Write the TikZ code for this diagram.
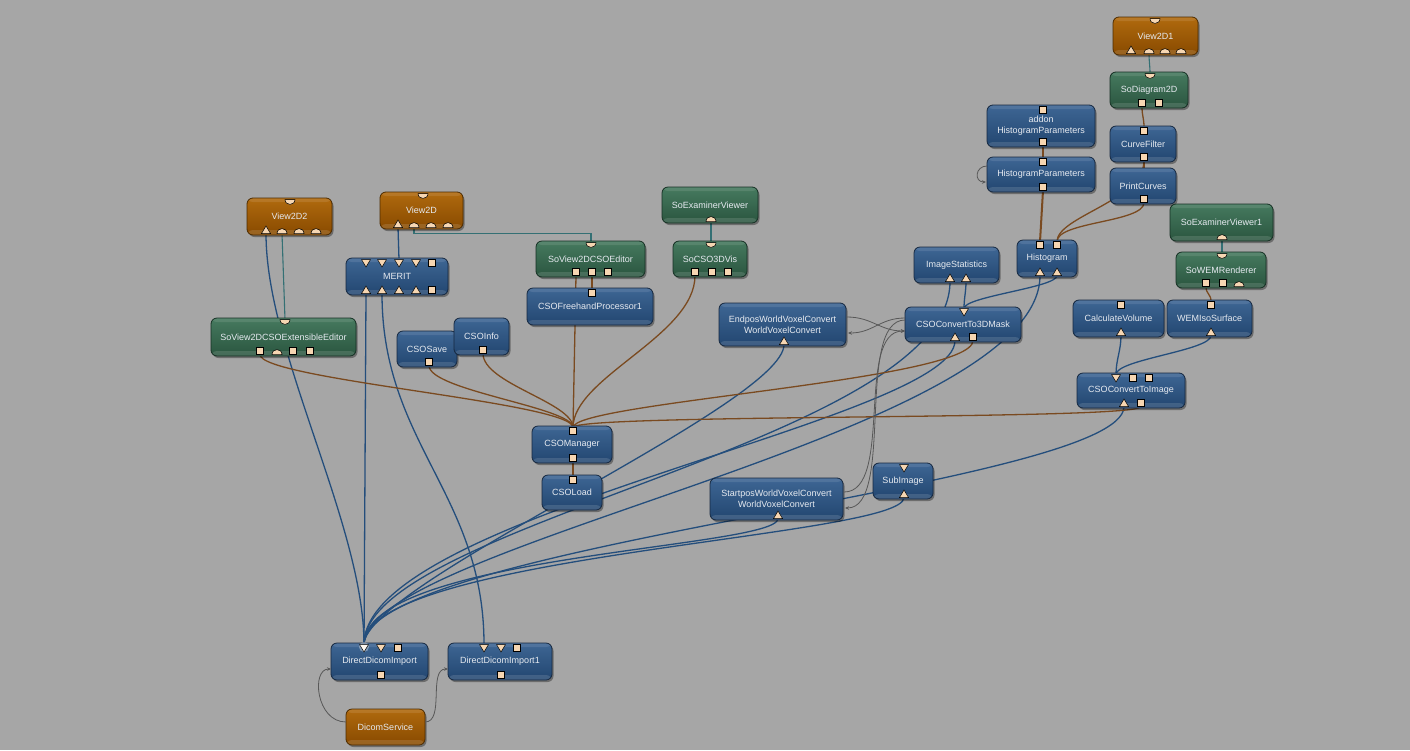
\documentclass[tikz,border=0pt]{standalone}
\usepackage{fontspec}
\newfontfamily\modfontfam{Liberation Sans}
\usetikzlibrary{shadows,arrows.meta,calc}
\definecolor{bgc}{RGB}{166,166,166}
\definecolor{blueT}{RGB}{62,102,148}
\definecolor{blueB}{RGB}{34,70,112}
\definecolor{blueD}{RGB}{22,40,64}
\definecolor{orT}{RGB}{176,106,14}
\definecolor{orB}{RGB}{136,74,0}
\definecolor{orD}{RGB}{78,44,0}
\definecolor{grT}{RGB}{70,122,95}
\definecolor{grB}{RGB}{42,85,63}
\definecolor{grD}{RGB}{22,48,36}
\definecolor{modtxt}{RGB}{230,234,240}
\definecolor{portc}{RGB}{246,214,178}
\definecolor{lblue}{RGB}{36,78,124}
\definecolor{lbrown}{RGB}{122,74,32}
\definecolor{lteal}{RGB}{52,112,116}
\definecolor{lgray}{RGB}{88,88,88}
\tikzset{
  modbase/.style={rounded corners=6pt, line width=0.8pt, inner sep=0pt, align=center,
    text=modtxt, font=\modfontfam\fontsize{9}{11}\selectfont,
    drop shadow={shadow xshift=1.5pt, shadow yshift=-2pt, opacity=0.35, fill=black},
    path picture={
      \fill[white, opacity=0.13] (path picture bounding box.south west) rectangle ([yshift=5pt]path picture bounding box.south east);
      \fill[white, opacity=0.10] (path picture bounding box.north west) rectangle ([yshift=-4pt]path picture bounding box.north east);
    }},
  bluemod/.style={modbase, draw=blueD, top color=blueT, bottom color=blueB},
  ormod/.style={modbase, draw=orD, top color=orT, bottom color=orB},
  grmod/.style={modbase, draw=grD, top color=grT, bottom color=grB},
  portst/.style={fill=portc, draw=black, line width=0.5pt},
  pics/ptu/.style={code={\path[portst] (-4.5,0) -- (4.5,0) -- (0,-7.5) -- cycle;}},
  pics/ptd/.style={code={\path[portst] (-4.5,0) -- (4.5,0) -- (0,7.5) -- cycle;}},
  pics/ptdh/.style={code={\path[portst, fill={rgb,255:red,255;green,248;blue,240}] (-4.5,0) -- (4.5,0) -- (0,7.5) -- cycle;}},
  pics/pdu/.style={code={\path[portst] (-5,0) .. controls (-5,-6.5) and (5,-6.5) .. (5,0) -- cycle;}},
  pics/pdd/.style={code={\path[portst] (-5,0) .. controls (-5,6.5) and (5,6.5) .. (5,0) -- cycle;}},
  pics/psb/.style={code={\path[portst] (-3.5,0) rectangle (3.5,-7);}},
  pics/pst/.style={code={\path[portst] (-3.5,0) rectangle (3.5,7);}},
  bluec/.style={draw=lblue, line width=1.3pt},
  brownc/.style={draw=lbrown, line width=1.3pt},
  tealc/.style={draw=lteal, line width=1.1pt},
  grayarr/.style={draw=lgray, line width=0.8pt, -{Stealth[length=4pt,width=3.5pt]}},
}
\begin{document}
\begin{tikzpicture}[x=1pt,y=-1pt]
\useasboundingbox (0,0) rectangle (1410,750);
\fill[bgc] (0,0) rectangle (1410,750);

% ---------- port coordinates ----------
\coordinate (v2d1t) at (1155,18.5);
\coordinate (v2d1b0) at (1131,53.5);
\coordinate (v2d1b1) at (1149,53.5);
\coordinate (v2d1b2) at (1165,53.5);
\coordinate (v2d1b3) at (1181,53.5);
\coordinate (sd2t) at (1150,73.5);
\coordinate (sd2b0) at (1142,106.5);
\coordinate (sd2b1) at (1159,106.5);
\coordinate (ahpt) at (1043,106.5);
\coordinate (ahpb) at (1043,145.5);
\coordinate (hpt) at (1043,158.5);
\coordinate (hpb) at (1043,190.5);
\coordinate (cft) at (1144,127.5);
\coordinate (cfb) at (1144,160.5);
\coordinate (pct) at (1144,169.5);
\coordinate (pcb) at (1144,202.5);
\coordinate (hist0) at (1040,241.5);
\coordinate (hist1) at (1057,241.5);
\coordinate (hisb0) at (1040,275.5);
\coordinate (hisb1) at (1057,275.5);
\coordinate (sev1b) at (1222,239.5);
\coordinate (swrt) at (1222,253.5);
\coordinate (swrb0) at (1206,286.5);
\coordinate (swrb1) at (1223,286.5);
\coordinate (swrb2) at (1239,286.5);
\coordinate (cvt) at (1121,301.5);
\coordinate (cvb) at (1121,335.5);
\coordinate (wist) at (1211,301.5);
\coordinate (wisb) at (1211,335.5);
\coordinate (ctit0) at (1116,374.5);
\coordinate (ctit1) at (1133,374.5);
\coordinate (ctit2) at (1149,374.5);
\coordinate (ctib0) at (1124,406.5);
\coordinate (ctib1) at (1141,406.5);
\coordinate (isb0) at (950,281.5);
\coordinate (isb1) at (966,281.5);
\coordinate (c3mt) at (964,308.5);
\coordinate (c3mb0) at (955,340.5);
\coordinate (c3mb1) at (973,340.5);
\coordinate (ewb) at (784,344.5);
\coordinate (sevb) at (711,221.5);
\coordinate (s3dt) at (711,242.5);
\coordinate (s3db0) at (695,275.5);
\coordinate (s3db1) at (712,275.5);
\coordinate (s3db2) at (728,275.5);
\coordinate (svet) at (591,242.5);
\coordinate (sveb0) at (576,275.5);
\coordinate (sveb1) at (592,275.5);
\coordinate (sveb2) at (608,275.5);
\coordinate (cfpt) at (592,289.5);
\coordinate (v2dt) at (423,193.5);
\coordinate (v2db0) at (398,227.5);
\coordinate (v2db1) at (414,227.5);
\coordinate (v2db2) at (431,227.5);
\coordinate (v2db3) at (448,227.5);
\coordinate (v22t) at (290,199.5);
\coordinate (v22b0) at (266,233.5);
\coordinate (v22b1) at (282,233.5);
\coordinate (v22b2) at (299,233.5);
\coordinate (v22b3) at (316,233.5);
\coordinate (mt0) at (366,259.5);
\coordinate (mt1) at (382,259.5);
\coordinate (mt2) at (399,259.5);
\coordinate (mt3) at (416,259.5);
\coordinate (mt4) at (432,259.5);
\coordinate (mb0) at (366,293.5);
\coordinate (mb1) at (382,293.5);
\coordinate (mb2) at (399,293.5);
\coordinate (mb3) at (416,293.5);
\coordinate (mb4) at (432,293.5);
\coordinate (sxet) at (285,319.5);
\coordinate (sxeb0) at (260,354.5);
\coordinate (sxeb1) at (277,354.5);
\coordinate (sxeb2) at (293,354.5);
\coordinate (sxeb3) at (310,354.5);
\coordinate (csb) at (429,365.5);
\coordinate (cib) at (483,353.5);
\coordinate (cmt) at (573,427.5);
\coordinate (cmb) at (573,461.5);
\coordinate (clt) at (573,476.5);
\coordinate (swb) at (778,518.5);
\coordinate (sit) at (904,464.5);
\coordinate (sib) at (904,497.5);
\coordinate (ddt0) at (364,644.5);
\coordinate (ddt1) at (381,644.5);
\coordinate (ddt2) at (398,644.5);
\coordinate (ddb) at (381,678.5);
\coordinate (dd1t0) at (484,644.5);
\coordinate (dd1t1) at (501,644.5);
\coordinate (dd1t2) at (517,644.5);
\coordinate (dd1b) at (501,678.5);
% side points for parameter connections
\coordinate (ewR1) at (847,317);
\coordinate (ewR2) at (848,333);
\coordinate (c3L1) at (905,318);
\coordinate (c3L2) at (905,331);
\coordinate (c3L3) at (905,320);
\coordinate (swR1) at (844,492);
\coordinate (swR2) at (845,508);
\coordinate (hpL1) at (987,166);
\coordinate (hpL2) at (986,182);
\coordinate (dsL) at (346,722);
\coordinate (dsR) at (425,722);
\coordinate (ddiL) at (331,669);
\coordinate (dd1L) at (448,669);

% ---------- connections (behind modules) ----------
% inventor connections
\draw[tealc] (v2d1b1) .. controls +(0,8) and +(0,-8) .. (sd2t);
\draw[tealc] (v22b1) -- (sxet);
\draw[tealc] (v2db1) -- ++(0,6) -| (svet);
\draw[tealc] (sevb) -- (s3dt);
\draw[tealc] (sev1b) -- (swrt);
% image connections
\draw[bluec] (v2db0) -- (mt2);
\draw[bluec] (v22b0) .. controls +(0,120) and +(0,-120) .. (ddt0);
\draw[bluec] (mb0) -- (ddt0);
\draw[bluec] (mb1) .. controls +(0,150) and +(0,-150) .. (dd1t0);
\draw[bluec] (ewb) .. controls +(0,60) and +(0,-60) .. (ddt0);
\draw[bluec] (isb0) .. controls +(0,160) and +(0,-120) .. (ddt0);
\draw[bluec] (c3mb0) .. controls +(0,80) and +(0,-130) .. (ddt0);
\draw[bluec] (hisb0) .. controls +(0,160) and +(0,-100) .. (ddt0);
\draw[bluec] (swb) .. controls +(0,30) and +(0,-90) .. (ddt0);
\draw[bluec] (sib) .. controls +(0,40) and +(0,-90) .. (ddt0);
\draw[bluec] (ctib0) .. controls +(0,80) and +(0,-100) .. (ddt0);
\draw[bluec] (c3mt) .. controls +(0,-10) and +(0,10) .. (isb1);
\draw[bluec] (c3mt) .. controls +(0,-12) and +(0,12) .. (hisb1);
\draw[bluec] (cvb) .. controls +(0,15) and +(0,-15) .. (ctit0);
\draw[bluec] (wisb) .. controls +(0,15) and +(0,-15) .. (ctit0);
% base connections
\draw[brownc] (sd2b0) .. controls +(0,10) and +(0,-10) .. (cft);
\draw[brownc] (cfb) -- (pct);
\draw[brownc] (ahpb) -- (hpt);
\draw[brownc, line width=2pt] (hpb) -- (hist0);
\draw[brownc] (hist1) .. controls +(0,-20) and +(0,20) .. (pcb);
\draw[brownc] (hist1) .. controls +(0,-25) and +(0,40) .. (cfb);
\draw[brownc] (swrb0) .. controls +(0,8) and +(0,-8) .. (wist);
\draw[brownc] (sveb1) -- (cfpt);
\draw[brownc] (sveb0) -- (cmt);
\draw[brownc] (s3db0) .. controls +(0,60) and +(0,-50) .. (cmt);
\draw[brownc] (csb) .. controls +(0,25) and +(0,-20) .. (cmt);
\draw[brownc] (cib) .. controls +(0,30) and +(0,-25) .. (cmt);
\draw[brownc] (sxeb0) .. controls +(0,25) and +(0,-25) .. (cmt);
\draw[brownc] (c3mb1) .. controls +(0,40) and +(0,-25) .. (cmt);
\draw[brownc] (ctib1) .. controls +(0,14) and +(0,-14) .. (cmt);
\draw[brownc] (cmb) -- (clt);

% ---------- modules ----------
\node[ormod, minimum width=85pt, minimum height=38pt] (view2d1) at (1155.5,36) {View2D1};
\node[grmod, minimum width=78pt, minimum height=36pt] (sodiag) at (1149,90) {SoDiagram2D};
\node[bluemod, minimum width=108pt, minimum height=42pt] (addonhp) at (1041,126) {addon\\HistogramParameters};
\node[bluemod, minimum width=108pt, minimum height=35pt] (histpar) at (1041,174.5) {HistogramParameters};
\node[bluemod, minimum width=66pt, minimum height=36pt] (curvef) at (1143,144) {CurveFilter};
\node[bluemod, minimum width=66pt, minimum height=36pt] (printc) at (1143,186) {PrintCurves};
\node[bluemod, minimum width=60pt, minimum height=37pt] (histo) at (1047,258.5) {Histogram};
\node[grmod, minimum width=103pt, minimum height=37pt] (soexv1) at (1221.5,222.5) {SoExaminerViewer1};
\node[grmod, minimum width=90pt, minimum height=36pt] (sowem) at (1221,270) {SoWEMRenderer};
\node[bluemod, minimum width=91pt, minimum height=37pt] (calcvol) at (1118.5,318.5) {CalculateVolume};
\node[bluemod, minimum width=85pt, minimum height=37pt] (wemiso) at (1209.5,318.5) {WEMIsoSurface};
\node[bluemod, minimum width=108pt, minimum height=35pt] (ctoimg) at (1131,390.5) {CSOConvertToImage};
\node[bluemod, minimum width=85pt, minimum height=36pt] (imgstat) at (956.5,265) {ImageStatistics};
\node[bluemod, minimum width=116pt, minimum height=35pt] (cto3d) at (963,324.5) {CSOConvertTo3DMask};
\node[bluemod, minimum width=127pt, minimum height=43pt] (endpos) at (782.5,324.5) {EndposWorldVoxelConvert\\WorldVoxelConvert};
\node[grmod, minimum width=96pt, minimum height=36pt] (soexv) at (710,205) {SoExaminerViewer};
\node[grmod, minimum width=74pt, minimum height=36pt] (socso3d) at (710,259) {SoCSO3DVis};
\node[grmod, minimum width=109pt, minimum height=36pt] (sov2dcso) at (590.5,259) {SoView2DCSOEditor};
\node[bluemod, minimum width=126pt, minimum height=37pt] (freehand) at (590,306.5) {CSOFreehandProcessor1};
\node[ormod, minimum width=83pt, minimum height=37pt] (view2d) at (421.5,210.5) {View2D};
\node[ormod, minimum width=85pt, minimum height=37pt] (view2d2) at (289.5,216.5) {View2D2};
\node[bluemod, minimum width=102pt, minimum height=37pt] (merit) at (397,276.5) {MERIT};
\node[grmod, minimum width=145pt, minimum height=38pt] (sov2dext) at (283.5,337) {SoView2DCSOExtensibleEditor};
\node[bluemod, minimum width=60pt, minimum height=36pt] (csosave) at (427,349) {CSOSave};
\node[bluemod, minimum width=55pt, minimum height=37pt] (csoinfo) at (481.5,336.5) {CSOInfo};
\node[bluemod, minimum width=80pt, minimum height=37pt] (csoman) at (572,444.5) {CSOManager};
\node[bluemod, minimum width=60pt, minimum height=35pt] (csoload) at (572,492.5) {CSOLoad};
\node[bluemod, minimum width=133pt, minimum height=42pt] (startpos) at (776.5,499) {StartposWorldVoxelConvert\\WorldVoxelConvert};
\node[bluemod, minimum width=60pt, minimum height=36pt] (subimg) at (903,481) {SubImage};
\node[bluemod, minimum width=97pt, minimum height=37pt] (ddi) at (379.5,661.5) {DirectDicomImport};
\node[bluemod, minimum width=104pt, minimum height=37pt] (ddi1) at (500,661.5) {DirectDicomImport1};
\node[ormod, minimum width=79pt, minimum height=36pt] (dicomsrv) at (385.5,727) {DicomService};

% ---------- ports ----------
\pic at (v2d1t) {pdd}; \pic at (v2d1b0) {ptu}; \pic at (v2d1b1) {pdu}; \pic at (v2d1b2) {pdu}; \pic at (v2d1b3) {pdu};
\pic at (sd2t) {pdd}; \pic at (sd2b0) {psb}; \pic at (sd2b1) {psb};
\pic at (ahpt) {pst}; \pic at (ahpb) {psb};
\pic at (hpt) {pst}; \pic at (hpb) {psb};
\pic at (cft) {pst}; \pic at (cfb) {psb};
\pic at (pcb) {psb};
\pic at (hist0) {pst}; \pic at (hist1) {pst}; \pic at (hisb0) {ptu}; \pic at (hisb1) {ptu};
\pic at (sev1b) {pdu};
\pic at (swrt) {pdd}; \pic at (swrb0) {psb}; \pic at (swrb1) {psb}; \pic at (swrb2) {pdu};
\pic at (cvt) {pst}; \pic at (cvb) {ptu};
\pic at (wist) {pst}; \pic at (wisb) {ptu};
\pic at (ctit0) {ptd}; \pic at (ctit1) {pst}; \pic at (ctit2) {pst}; \pic at (ctib0) {ptu}; \pic at (ctib1) {psb};
\pic at (isb0) {ptu}; \pic at (isb1) {ptu};
\pic at (c3mt) {ptd}; \pic at (c3mb0) {ptu}; \pic at (c3mb1) {psb};
\pic at (ewb) {ptu};
\pic at (sevb) {pdu};
\pic at (s3dt) {pdd}; \pic at (s3db0) {psb}; \pic at (s3db1) {psb}; \pic at (s3db2) {psb};
\pic at (svet) {pdd}; \pic at (sveb0) {psb}; \pic at (sveb1) {psb}; \pic at (sveb2) {psb};
\pic at (cfpt) {pst};
\pic at (v2dt) {pdd}; \pic at (v2db0) {ptu}; \pic at (v2db1) {pdu}; \pic at (v2db2) {pdu}; \pic at (v2db3) {pdu};
\pic at (v22t) {pdd}; \pic at (v22b0) {ptu}; \pic at (v22b1) {pdu}; \pic at (v22b2) {pdu}; \pic at (v22b3) {pdu};
\pic at (mt0) {ptd}; \pic at (mt1) {ptd}; \pic at (mt2) {ptd}; \pic at (mt3) {ptd}; \pic at (mt4) {pst};
\pic at (mb0) {ptu}; \pic at (mb1) {ptu}; \pic at (mb2) {ptu}; \pic at (mb3) {ptu}; \pic at (mb4) {psb};
\pic at (sxet) {pdd}; \pic at (sxeb0) {psb}; \pic at (sxeb1) {pdu}; \pic at (sxeb2) {psb}; \pic at (sxeb3) {psb};
\pic at (csb) {psb};
\pic at (cib) {psb};
\pic at (cmt) {pst}; \pic at (cmb) {psb};
\pic at (clt) {pst};
\pic at (swb) {ptu};
\pic at (sit) {ptd}; \pic at (sib) {ptu};
\fill[white, opacity=0.35] (364,647) circle[radius=5pt];
\pic at (ddt0) {ptdh}; \pic at (ddt1) {ptd}; \pic at (ddt2) {pst}; \pic at (ddb) {psb};
\pic at (dd1t0) {ptd}; \pic at (dd1t1) {ptd}; \pic at (dd1t2) {pst}; \pic at (dd1b) {psb};

% ---------- parameter connections ----------
\draw[grayarr] (ewR1) .. controls +(25,0) and +(-25,0) .. (c3L2);
\draw[grayarr] (c3L1) .. controls +(-25,0) and +(25,0) .. (ewR2);
\draw[grayarr] (swR1) .. controls +(50,0) and +(-50,0) .. (c3L2);
\draw[grayarr] (c3L3) .. controls +(-50,0) and +(50,0) .. (swR2);
\draw[grayarr] (hpL1) .. controls +(-12,0) and +(-12,0) .. (hpL2);
\draw[grayarr] (dsL) .. controls +(-30,0) and +(-20,0) .. (ddiL);
\draw[grayarr] (dsR) .. controls +(20,0) and +(-20,0) .. (dd1L);
\end{tikzpicture}
\end{document}
